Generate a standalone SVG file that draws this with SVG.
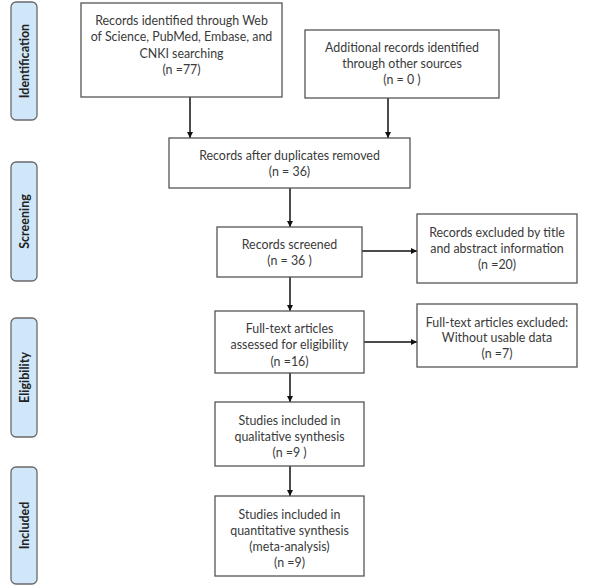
<svg xmlns="http://www.w3.org/2000/svg" width="596" height="585" viewBox="0 0 596 585">
<defs>
<style>
.box{fill:#fff;stroke:#555;stroke-width:1.3}
.side{fill:#cfe7f8;stroke:#6a6a6a;stroke-width:1.3}
.t{font-family:Lato,"Liberation Sans",sans-serif;font-size:12.4px;fill:#3a3a3a;text-anchor:middle}
.s{font-family:Lato,"Liberation Sans",sans-serif;font-size:12.5px;font-weight:bold;fill:#222;text-anchor:middle}
.c{stroke:#111;stroke-width:1.5;fill:none;marker-end:url(#ah)}
</style>
<marker id="ah" viewBox="0 0 10 10" refX="10" refY="5" markerWidth="6" markerHeight="6" markerUnits="userSpaceOnUse" orient="auto">
<path d="M0,0 L10,5 L0,10 z" fill="#111"/>
</marker>
</defs>
<rect width="596" height="585" fill="#fff"/>
<g id="phase-identification">
<rect class="side" x="11" y="2" width="26" height="118" rx="5"/>
<text class="s" transform="translate(28.5,61) rotate(-90)">Identification</text>
</g>
<g id="phase-screening">
<rect class="side" x="11" y="162" width="26" height="119" rx="5"/>
<text class="s" transform="translate(28.5,221.5) rotate(-90)">Screening</text>
</g>
<g id="phase-eligibility">
<rect class="side" x="11" y="318" width="26" height="119" rx="5"/>
<text class="s" transform="translate(28.5,377.5) rotate(-90)">Eligibility</text>
</g>
<g id="phase-included">
<rect class="side" x="11" y="467" width="26" height="117" rx="5"/>
<text class="s" transform="translate(28.5,525.5) rotate(-90)">Included</text>
</g>
<g id="connectors">
<line class="c" x1="190" y1="97" x2="190" y2="138"/>
<line class="c" x1="388" y1="98" x2="388" y2="138"/>
<line class="c" x1="290" y1="188" x2="290" y2="227"/>
<line class="c" x1="362" y1="251" x2="417" y2="251"/>
<line class="c" x1="290" y1="277" x2="290" y2="311"/>
<line class="c" x1="364" y1="342" x2="417" y2="342"/>
<line class="c" x1="290" y1="373" x2="290" y2="402"/>
<line class="c" x1="290" y1="466" x2="290" y2="496"/>
</g>
<g id="records-identified">
<rect class="box" x="81" y="3" width="201" height="94"/>
<text class="t"><tspan x="181.5" y="24.5">Records identified through Web</tspan><tspan x="181.5" y="41">of Science, PubMed, Embase, and</tspan><tspan x="181.5" y="57.5">CNKI searching</tspan><tspan x="181.5" y="74">(n =77)</tspan></text>
</g>
<g id="additional-records">
<rect class="box" x="305" y="30" width="194" height="68"/>
<text class="t"><tspan x="402" y="51.5">Additional records identified</tspan><tspan x="402" y="67.5">through other sources</tspan><tspan x="402" y="84">(n = 0 )</tspan></text>
</g>
<g id="after-duplicates">
<rect class="box" x="169" y="138" width="241" height="50"/>
<text class="t"><tspan x="289.5" y="159.5">Records after duplicates removed</tspan><tspan x="289.5" y="175.5">(n = 36)</tspan></text>
</g>
<g id="records-screened">
<rect class="box" x="217" y="227" width="145" height="50"/>
<text class="t"><tspan x="289.5" y="248.5">Records screened</tspan><tspan x="289.5" y="265">(n = 36 )</tspan></text>
</g>
<g id="excluded-title">
<rect class="box" x="417" y="214" width="160" height="69"/>
<text class="t"><tspan x="497" y="236.5">Records excluded by title</tspan><tspan x="497" y="252.5">and abstract information</tspan><tspan x="497" y="268.5">(n =20)</tspan></text>
</g>
<g id="full-text-assessed">
<rect class="box" x="215" y="311" width="149" height="62"/>
<text class="t"><tspan x="289.5" y="332.5">Full-text articles</tspan><tspan x="289.5" y="349">assessed for eligibility</tspan><tspan x="289.5" y="365.5">(n =16)</tspan></text>
</g>
<g id="full-text-excluded">
<rect class="box" x="417" y="304" width="160" height="63"/>
<text class="t"><tspan x="497" y="326.5">Full-text articles excluded:</tspan><tspan x="497" y="342">Without usable data</tspan><tspan x="497" y="357.5">(n =7)</tspan></text>
</g>
<g id="qualitative">
<rect class="box" x="215" y="402" width="149" height="64"/>
<text class="t"><tspan x="289.5" y="424.5">Studies included in</tspan><tspan x="289.5" y="441">qualitative synthesis</tspan><tspan x="289.5" y="456.5">(n =9 )</tspan></text>
</g>
<g id="quantitative">
<rect class="box" x="215" y="496" width="149" height="80"/>
<text class="t"><tspan x="289.5" y="518.5">Studies included in</tspan><tspan x="289.5" y="534.5">quantitative synthesis</tspan><tspan x="289.5" y="551">(meta-analysis)</tspan><tspan x="289.5" y="566.5">(n =9)</tspan></text>
</g>
</svg>
